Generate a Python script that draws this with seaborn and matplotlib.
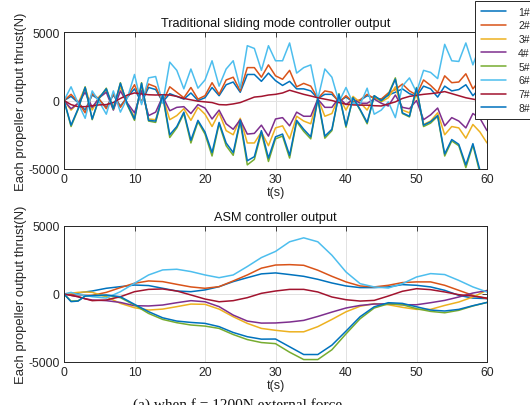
import matplotlib
matplotlib.use("Agg")
import matplotlib.pyplot as plt
from matplotlib.lines import Line2D
import numpy as np
import pandas as pd
import seaborn as sns

# ---------------- data ----------------
t_smc = list(range(0, 61))

smc_1 = [0, 300, -150, -700, 400, 50, -500, 400, -400, 250, 850, -150, 950, 800, -100,
         500, 300, 100, 550, 0, 200, 950, 350, 1150, 1350, 600, 1900, 1900, 1400, 2000,
         1450, 1100, 1400, 850, 850, 700, 150, 450, 450, -50, 250, -100, 0, 350, 200,
         100, 400, 600, 850, 500, 300, 1050, 850, 250, 1050, 700, 800, 1150, 350, 900, 500]
smc_2 = [0, 450, -100, -900, 500, 100, -600, 500, -500, 300, 1150, -100, 1200, 1000, -100,
         1000, 600, 200, 950, 100, 350, 1300, 450, 1500, 1700, 700, 2400, 2400, 1700, 2600,
         1800, 1550, 2200, 1000, 1250, 1050, 150, 700, 600, -150, 350, -100, 50, 450, 150,
         100, 550, 800, 1200, 700, 400, 1500, 1100, 600, 1800, 1300, 1350, 1950, 850, 1500, 900]
smc_3 = [0, -700, -200, 950, -700, 300, 700, -500, 1000, -300, -1200, 1000, -1350, -1400, 300,
         -1400, -1100, -600, -1450, -500, -1000, -1900, -900, -2200, -2500, -1300, -3100, -3100, -2300, -3300,
         -2000, -1850, -2800, -1150, -1500, -1700, 150, -1150, -950, 300, -700, 300, -150, -700, 300,
         -100, 200, 1000, -700, -900, 500, -1750, -1500, -900, -2500, -1900, -2000, -2750, -1750, -2300, -3100]
smc_4 = [0, -600, -200, 600, -500, 200, 600, -700, 700, -200, -900, 700, -1100, -850, 300,
         -750, -500, -450, -950, -300, -550, -1350, -700, -1700, -2100, -1400, -2450, -2400, -1800, -2600,
         -1350, -1250, -1850, -850, -1150, -1150, 100, -500, -500, 200, -300, 100, -200, -200, 100,
         -200, -400, 400, -500, -600, 0, -1400, -1050, -550, -1850, -1250, -1500, -2000, -950, -1300, -2200]
smc_5 = [0, -1900, -650, 1000, -1400, 150, 900, -650, 1300, -350, -1450, 1300, -1500, -1600, 350,
         -2700, -2000, -950, -3100, -1550, -2450, -4050, -1700, -3300, -4000, -1550, -4700, -4300, -2350, -4450,
         -2800, -2600, -4200, -1550, -2250, -2800, 100, -2750, -2200, 500, -1950, 200, -700, -1700, 350,
         -50, 450, 1650, -950, -1200, 950, -1900, -1650, -1150, -4050, -2950, -3300, -4900, -3250, -5300, -6200]
smc_6 = [0, 1000, -200, -1300, 700, -100, -1000, 700, -850, 200, 1900, -300, 1650, 1750, -200,
         2800, 2200, 850, 2300, 900, 1500, 2900, 1050, 2300, 2900, 900, 4000, 3800, 2200, 4000,
         2900, 2900, 4200, 2000, 2400, 2600, 100, 2300, 1700, -100, 950, -200, -300, 900, -1000,
         -700, -100, -1250, 1050, 1650, 600, 2200, 2050, 1600, 4100, 2900, 2850, 4200, 2600, 4000, 2600]
smc_7 = [0, -300, -450, -450, -380, -320, -300, -150, 150, 400, 550, 480, 420, 400, 420,
         400, 300, 150, 50, -50, -100, -150, -300, -320, -250, -150, 50, 250, 300, 400,
         450, 550, 750, 600, 450, 330, 200, 100, 0, -150, -270, -320, -340, -340, -380,
         -400, -250, -100, 150, 300, 380, 450, 500, 560, 650, 500, 350, 200, 100, 0, -50]
smc_8 = [0, -1800, -600, 950, -1350, 200, 850, -600, 1250, -300, -1350, 1250, -1450, -1500, 400,
         -2500, -1900, -850, -2900, -1450, -2300, -3800, -1600, -3100, -3800, -1450, -4400, -4100, -2200, -4200,
         -2650, -2450, -4000, -1450, -2100, -2650, 150, -2600, -2100, 450, -1850, 200, -650, -1600, 350,
         0, 400, 1550, -900, -1150, 900, -1800, -1550, -1100, -3900, -2850, -3200, -4700, -3150, -5100, -6000]

t_asm = [0, 1, 2, 3, 4, 6, 8, 10, 12, 14, 16, 18, 20, 22, 24, 26, 28, 30,
         32, 34, 36, 38, 40, 42, 44, 46, 48, 50, 52, 54, 56, 58, 60]

asm_1 = [0, 30, 70, 150, 220, 420, 540, 660, 620, 420, 220, 170, 300, 540, 910, 1200, 1480, 1550,
         1430, 1300, 1080, 810, 590, 470, 470, 520, 690, 640, 520, 270, -100, -300, -340]
asm_2 = [0, -30, -70, -100, -100, 120, 470, 790, 960, 910, 710, 520, 420, 540, 960, 1400, 1900, 2130,
         2160, 2110, 1750, 1300, 890, 590, 520, 640, 840, 890, 890, 640, 270, -100, -340]
asm_3 = [0, 60, 120, 150, 120, -200, -690, -1010, -1180, -1110, -930, -740, -760, -1110, -1670, -2160, -2530, -2670,
         -2780, -2780, -2400, -1870, -1310, -900, -710, -790, -980, -1130, -1130, -840, -590, -220, 270]
asm_4 = [0, -100, -200, -350, -440, -490, -620, -860, -880, -810, -640, -490, -570, -930, -1550, -1990, -2140, -2130,
         -2060, -1940, -1650, -1330, -1030, -840, -740, -720, -790, -790, -640, -470, -220, 70, 250]
asm_5 = [0, -520, -500, -150, -120, -120, -270, -810, -1430, -1870, -2110, -2280, -2360, -2530, -2980, -3350, -3570, -3650,
         -4280, -4820, -4820, -4100, -2930, -1820, -1030, -720, -790, -1080, -1280, -1380, -1200, -880, -620]
asm_6 = [0, 120, -50, -100, -200, -300, 170, 790, 1400, 1770, 1820, 1650, 1400, 1200, 1400, 2020, 2680, 3130,
         3840, 4130, 3840, 2850, 1620, 760, 520, 440, 760, 1250, 1500, 1430, 1000, 520, 150]
asm_7 = [0, -100, -200, -350, -490, -440, -200, 170, 340, 370, 220, -70, -370, -570, -490, -270, 50, 220,
         340, 340, 150, -220, -420, -520, -470, -150, 200, 390, 320, 150, -50, -150, -300]
asm_8 = [0, -560, -520, -150, -120, -70, -200, -760, -1300, -1750, -1990, -2090, -2160, -2400, -2830, -3140, -3320, -3310,
         -3880, -4450, -4450, -3760, -2730, -1670, -940, -640, -690, -940, -1180, -1250, -1130, -860, -620]

series_names = ["1#", "2#", "3#", "4#", "5#", "6#", "7#", "8#"]
colors = ["#0072BD", "#D95319", "#EDB120", "#7E2F8E", "#77AC30", "#4DBEEE", "#A2142F", "#0072BD"]

smc_vals = [smc_1, smc_2, smc_3, smc_4, smc_5, smc_6, smc_7, smc_8]
asm_vals = [asm_1, asm_2, asm_3, asm_4, asm_5, asm_6, asm_7, asm_8]

def long_df(t, vals):
    rows = []
    for name, v in zip(series_names, vals):
        for ti, vi in zip(t, v):
            rows.append((name, ti, vi))
    return pd.DataFrame(rows, columns=["series", "t", "thrust"])

df_smc = long_df(t_smc, smc_vals)
df_asm = long_df(t_asm, asm_vals)

# ---------------- style ----------------
sns.set_theme(style="white")
plt.rcParams["font.family"] = ["Liberation Sans", "DejaVu Sans"]
plt.rcParams["axes.edgecolor"] = "#262626"
plt.rcParams["xtick.color"] = "#262626"
plt.rcParams["ytick.color"] = "#262626"

fig = plt.figure(figsize=(5.30, 4.06), dpi=100)
W, H = 530.0, 406.0
ax1 = fig.add_axes([64 / W, 1 - 170 / H, (487 - 64) / W, (170 - 33) / H])
ax2 = fig.add_axes([64 / W, 1 - 363 / H, (487 - 64) / W, (363 - 227) / H])

palette = {n: c for n, c in zip(series_names, colors)}

def draw(ax, df, title):
    for name in series_names:
        sub = df[df["series"] == name]
        sns.lineplot(data=sub, x="t", y="thrust", color=palette[name], lw=1.1,
                     estimator=None, sort=False, ax=ax, legend=False)
    ax.set_xlim(0, 60)
    ax.set_ylim(-5000, 5000)
    ax.set_xticks([0, 10, 20, 30, 40, 50, 60])
    ax.set_yticks([-5000, 0, 5000])
    ax.set_yticklabels(["-5000", "0", "5000"])
    ax.grid(True, color="#e2e2e2", lw=0.7)
    ax.set_axisbelow(True)
    ax.tick_params(direction="in", length=3.5, width=0.6, labelsize=8.8,
                   top=True, right=True, pad=3)
    for s in ax.spines.values():
        s.set_linewidth(0.7)
        s.set_color("#262626")
    ax.set_xlabel("t(s)", fontsize=9, labelpad=0.5, color="#262626")
    ax.set_ylabel("Each propeller output thrust(N)", fontsize=9.4, labelpad=1, color="#262626")
    ax.set_title(title, fontsize=9.2, pad=4, color="#111111")

draw(ax1, df_smc, "Traditional sliding mode controller output")
draw(ax2, df_asm, "ASM controller output")

handles = [Line2D([0], [0], color=c, lw=1.1) for c in colors]
leg = fig.legend(handles, series_names, loc="upper left",
                 bbox_to_anchor=(475 / W, 1 - 2 / H), bbox_transform=fig.transFigure,
                 fontsize=7.5, frameon=True, fancybox=False, framealpha=1,
                 edgecolor="#262626", handlelength=2.4, handletextpad=1.2,
                 labelspacing=0.36, borderpad=0.55, borderaxespad=0)
leg.get_frame().set_linewidth(0.7)

fig.text(133 / W, 1 - 398 / H, "(a) when f = 1200N external force", fontsize=11,
         family=["Liberation Serif", "DejaVu Serif"], ha="left", va="top", color="#111111")

fig.savefig("out.png", dpi=100)
